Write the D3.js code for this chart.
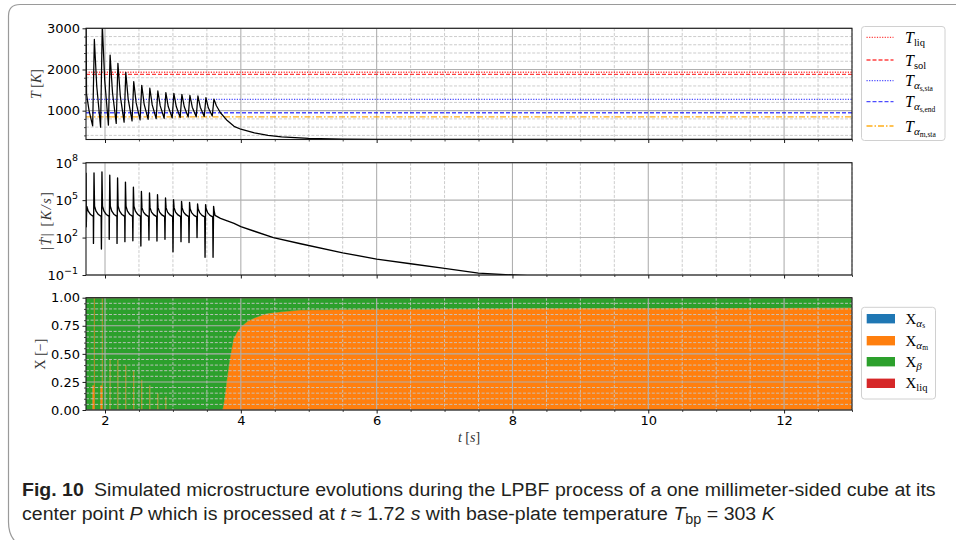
<!DOCTYPE html>
<html><head><meta charset="utf-8">
<script src="https://cdn.jsdelivr.net/npm/d3@7/dist/d3.min.js"></script>
<style>
html,body{margin:0;padding:0;background:#fff;}
svg{display:block;}
</style></head><body>
<svg id="chart" width="956" height="540"></svg>
<script>
// ================= DATA =================
const xTicks = [2, 4, 6, 8, 10, 12];
const tempTicks = [1000, 2000, 3000];
const rateTicks = [0.1, 1e2, 1e5, 1e8];
const rateTickExp = ["\u22121", "2", "5", "8"];
const fracTicks = [0, 0.25, 0.5, 0.75, 1];
const fracTickLabels = ["0.00", "0.25", "0.50", "0.75", "1.00"];

// reference temperatures (K)
const refTemps = [1933, 1880, 1273, 950, 850];

// temperature history at P
const tempTime = [1.72,1.728,1.765,1.818,1.843,1.878,1.935,1.960,1.995,2.050,2.075,2.110,2.165,2.190,2.225,2.281,2.306,2.341,2.398,2.423,2.458,2.516,2.541,2.576,2.635,2.660,2.695,2.753,2.778,2.813,2.871,2.896,2.931,2.989,3.014,3.049,3.107,3.132,3.167,3.225,3.250,3.285,3.343,3.368,3.403,3.461,3.486,3.521,3.579,3.604,3.64,3.70,3.80,3.90,4.00,4.20,4.40,4.60,4.80,5.00,5.50,6.00,7.00,13.0];
const tempK = [3600,1400,1000,630,2730,1600,600,3100,1750,650,2350,1440,690,2150,1360,720,1930,1280,750,1705,1195,775,1615,1160,790,1545,1140,805,1478,1115,815,1440,1100,825,1420,1100,835,1398,1095,845,1373,1085,850,1357,1085,860,1317,1070,870,1280,1120,950,760,620,550,460,400,365,343,328,312,306,304,303];

// |dT/dt| history (K/s)
const rateTime = [1.721,1.724,1.731,1.753,1.788,1.828,
1.830,1.838,1.846,1.868,1.903,1.943,
1.947,1.955,1.963,1.985,2.020,2.060,
2.062,2.070,2.078,2.100,2.135,2.175,
2.177,2.185,2.193,2.215,2.250,2.290,
2.293,2.301,2.309,2.331,2.366,2.406,
2.410,2.418,2.426,2.448,2.483,2.523,
2.528,2.536,2.544,2.566,2.601,2.641,
2.647,2.655,2.663,2.685,2.720,2.760,
2.765,2.773,2.781,2.803,2.838,2.878,
2.883,2.891,2.899,2.921,2.956,2.996,
3.001,3.009,3.017,3.039,3.074,3.114,
3.119,3.127,3.135,3.157,3.192,3.232,
3.237,3.245,3.253,3.275,3.310,3.350,
3.355,3.363,3.371,3.393,3.428,3.468,
3.473,3.481,3.489,3.511,3.546,3.586,
3.591,3.599,3.607,3.62,3.70,3.80,3.90,4.00,4.20,4.48,4.88,5.50,6.00,6.50,7.00,7.50,8.00,8.50,9.00];
const rateVal = [1.6e7,740,3.2e4,1.3e4,7000,5000,
34,1.5e7,3.2e4,1.3e4,7000,5000,
12,1.8e7,3.2e4,1.3e4,7000,5000,
72,1.0e7,3.2e4,1.3e4,7000,5000,
34,5.9e6,3.2e4,1.3e4,7000,5000,
47,2.8e6,3.2e4,1.3e4,7000,5000,
56,1.1e6,3.2e4,1.3e4,7000,5000,
21,5.0e5,2.5e4,1.1e4,6500,4800,
63,3.7e5,2.5e4,1.1e4,6500,4800,
52,2.7e5,2.5e4,1.1e4,6500,4800,
72,1.5e5,2.5e4,1.1e4,6500,4800,
7.2,1.1e5,2.5e4,1.1e4,6500,4800,
47,8.0e4,2.5e4,1.1e4,6500,4800,
40,6.6e4,2.0e4,1.0e4,6000,4500,
100,4.9e4,2.0e4,1.0e4,6000,4500,
2.6,4.3e4,2.0e4,1.0e4,6000,4500,
2.6,3.2e4,1.4e4,6000,3500,2200,1350,750,320,100,32,6,1.9,0.8,0.34,0.14,0.1,0.075,0.06];

// phase fractions
const fracTime = [1.72,1.812,1.812,1.836,1.836,1.851,1.851,1.929,1.929,1.953,1.953,1.968,1.968,
2.066,2.066,2.083,2.083,
2.181,2.181,2.198,2.198,
2.297,2.297,2.314,2.314,
2.414,2.414,2.431,2.431,
2.532,2.532,2.549,2.549,
2.651,2.651,2.668,2.668,
2.769,2.769,2.786,2.786,
2.887,2.887,2.904,2.904,
3.73,3.76,3.79,3.84,3.89,3.95,4.0,4.1,4.2,4.38,4.6,4.87,5.5,8,13];
const xAlphaS = [0,0,0,0,0,0,0,0,0,0,0,0,0, 0,0,0,0, 0,0,0,0, 0,0,0,0, 0,0,0,0, 0,0,0,0, 0,0,0,0, 0,0,0,0, 0,0,0,0, 0,0,0,0,0,0,0,0,0,0,0,0,0,0,0];
const xAlphaM = [0,0,0.22,0.22,1,1,0,0,0.22,0.22,1,1,0,
0,0.45,0.45,0,
0,0.45,0.45,0,
0,0.40,0.40,0,
0,0.35,0.35,0,
0,0.27,0.27,0,
0,0.22,0.22,0,
0,0.15,0.15,0,
0,0.12,0.12,0,
0,0.10,0.25,0.46,0.63,0.70,0.74,0.79,0.82,0.86,0.875,0.89,0.895,0.905,0.91];
const xBeta = [1,1,0.78,0.78,0,0,1,1,0.78,0.78,0,0,1,
1,0.55,0.55,1,
1,0.55,0.55,1,
1,0.60,0.60,1,
1,0.65,0.65,1,
1,0.73,0.73,1,
1,0.78,0.78,1,
1,0.85,0.85,1,
1,0.88,0.88,1,
1,0.90,0.75,0.54,0.37,0.30,0.26,0.21,0.18,0.14,0.125,0.11,0.105,0.095,0.09];
const xLiq = [0,0,0,0,0,0,0,0,0,0,0,0,0, 0,0,0,0, 0,0,0,0, 0,0,0,0, 0,0,0,0, 0,0,0,0, 0,0,0,0, 0,0,0,0, 0,0,0,0, 0,0,0,0,0,0,0,0,0,0,0,0,0,0,0];

// ================= DRAW =================
const svg = d3.select("#chart");
const X0 = 86, X1 = 852;
const x = d3.scaleLinear().domain([1.72, 13]).range([X0, X1]);
const P = {top: [28.3, 139.5], mid: [162.7, 275], bot: [297.7, 410]};
const yT = d3.scaleLinear().domain([300, 3000]).range([P.top[1], P.top[0]]);
const yR = d3.scaleLog().domain([0.1, 1e8]).range([P.mid[1], P.mid[0]]);
const yX = d3.scaleLinear().domain([0, 1]).range([P.bot[1], P.bot[0]]);

const xMinor = d3.range(2, 13.01, 0.5).filter(v => !xTicks.includes(v));
const tMinor = d3.range(400, 3000, 200).filter(v => !tempTicks.includes(v));
const fMinor = d3.range(1, 20).map(k => k * 0.05).filter(v => Math.abs(v * 4 - Math.round(v * 4)) > 1e-6);

const defs = svg.append("defs");
["top", "mid", "bot"].forEach(k => {
  defs.append("clipPath").attr("id", "clip-" + k).append("rect")
    .attr("x", X0).attr("y", P[k][0]).attr("width", X1 - X0).attr("height", P[k][1] - P[k][0]);
});

const MAJ = "#b0b0b0", MIN = "#c6c6c6";
function grid(y, yMaj, yMin, key) {
  const [y0, y1] = P[key];
  const g = svg.append("g");
  g.selectAll(null).data(xMinor).join("line")
    .attr("x1", d => x(d)).attr("x2", d => x(d)).attr("y1", y0).attr("y2", y1)
    .attr("stroke", MIN).attr("stroke-width", 0.9).attr("stroke-dasharray", "3,1.6");
  g.selectAll(null).data(yMin).join("line")
    .attr("x1", X0).attr("x2", X1).attr("y1", d => y(d)).attr("y2", d => y(d))
    .attr("stroke", MIN).attr("stroke-width", 0.9).attr("stroke-dasharray", "3,1.6");
  g.selectAll(null).data(xTicks).join("line")
    .attr("x1", d => x(d)).attr("x2", d => x(d)).attr("y1", y0).attr("y2", y1)
    .attr("stroke", MAJ).attr("stroke-width", 1.1);
  g.selectAll(null).data(yMaj).join("line")
    .attr("x1", X0).attr("x2", X1).attr("y1", d => y(d)).attr("y2", d => y(d))
    .attr("stroke", MAJ).attr("stroke-width", 1.1);
}

function axes(y, yMaj, yMin, key, fmt, showX) {
  const [y0, y1] = P[key];
  const gl = svg.append("g").attr("transform", `translate(${X0},0)`)
    .call(d3.axisLeft(y).tickValues(yMaj).tickSize(3.5).tickPadding(2.5).tickFormat(fmt || ""));
  gl.select(".domain").remove();
  gl.selectAll("text").attr("font-family", "DejaVu Sans").attr("font-size", 13).attr("fill", "#000");
  gl.selectAll("line").attr("stroke", "#000").attr("stroke-width", 0.9);
  if (yMin.length) {
    const gm = svg.append("g").attr("transform", `translate(${X0},0)`)
      .call(d3.axisLeft(y).tickValues(yMin).tickSize(2).tickFormat(""));
    gm.select(".domain").remove();
    gm.selectAll("line").attr("stroke", "#000").attr("stroke-width", 0.7);
  }
  const gb = svg.append("g").attr("transform", `translate(0,${y1})`)
    .call(d3.axisBottom(x).tickValues(xTicks).tickSize(3.5).tickPadding(2).tickFormat(showX ? d3.format("d") : ""));
  gb.select(".domain").remove();
  gb.selectAll("text").attr("font-family", "DejaVu Sans").attr("font-size", 13).attr("fill", "#000");
  gb.selectAll("line").attr("stroke", "#000").attr("stroke-width", 0.9);
  const gbm = svg.append("g").attr("transform", `translate(0,${y1})`)
    .call(d3.axisBottom(x).tickValues(xMinor).tickSize(2).tickFormat(""));
  gbm.select(".domain").remove();
  gbm.selectAll("line").attr("stroke", "#000").attr("stroke-width", 0.7);
  svg.append("rect").attr("x", X0).attr("y", y0).attr("width", X1 - X0).attr("height", y1 - y0)
    .attr("fill", "none").attr("stroke", "#1a1a1a").attr("stroke-width", 1.1);
}

// ---------- top panel ----------
grid(yT, tempTicks, tMinor, "top");
const refStyles = [
  {c: "rgba(255,0,0,0.75)", d: "1.2,1.4"},
  {c: "rgba(255,0,0,0.75)", d: "4,2"},
  {c: "rgba(0,0,255,0.7)", d: "1.2,1.4"},
  {c: "rgba(0,0,255,0.7)", d: "4,2"},
  {c: "rgba(255,165,0,0.9)", d: "6,2,1.5,2"}
];
svg.append("g").selectAll(null).data(refTemps).join("line")
  .attr("x1", X0).attr("x2", X1).attr("y1", d => yT(d)).attr("y2", d => yT(d))
  .attr("stroke", (d, i) => refStyles[i].c).attr("stroke-dasharray", (d, i) => refStyles[i].d)
  .attr("stroke-width", 1.3);
const tempPts = tempTime.map((t, i) => [t, tempK[i]]);
svg.append("path").attr("clip-path", "url(#clip-top)")
  .attr("d", d3.line().x(d => x(d[0])).y(d => yT(d[1]))(tempPts))
  .attr("fill", "none").attr("stroke", "#000").attr("stroke-width", 1.25).attr("stroke-linejoin", "round");
axes(yT, tempTicks, tMinor, "top", d3.format("d"), false);

// ---------- middle panel ----------
grid(yR, rateTicks, [], "mid");
const ratePts = rateTime.map((t, i) => [t, rateVal[i]]);
svg.append("path").attr("clip-path", "url(#clip-mid)")
  .attr("d", d3.line().x(d => x(d[0])).y(d => yR(d[1]))(ratePts))
  .attr("fill", "none").attr("stroke", "#000").attr("stroke-width", 1.35).attr("stroke-linejoin", "round");
axes(yR, rateTicks, [], "mid", null, false);
// log tick labels
const rl = svg.append("g");
rateTicks.forEach((v, i) => {
  const t = rl.append("text").attr("x", 78).attr("y", yR(v) + 5).attr("text-anchor", "end")
    .attr("font-family", "DejaVu Sans").attr("font-size", 13).attr("fill", "#000");
  t.append("tspan").text("10");
  t.append("tspan").attr("dy", -6.5).attr("font-size", 9.5).text(rateTickExp[i]);
});

// ---------- bottom panel ----------
const fracRows = fracTime.map((t, i) => ({t, as: xAlphaS[i], am: xAlphaM[i], b: xBeta[i], l: xLiq[i]}));
const keys = ["as", "am", "b", "l"];
const colors = {as: "#1f77b4", am: "#ff7f0e", b: "#2ca02c", l: "#d62728"};
const series = d3.stack().keys(keys)(fracRows);
const area = d3.area().x(d => x(d.data.t)).y0(d => yX(d[0])).y1(d => yX(d[1]));
svg.append("g").attr("clip-path", "url(#clip-bot)").selectAll(null).data(series).join("path")
  .attr("d", area).attr("fill", d => colors[d.key]).attr("stroke", d => colors[d.key]).attr("stroke-width", 0.4);
grid(yX, fracTicks, fMinor, "bot");
axes(yX, fracTicks, fMinor, "bot", (d, i) => fracTickLabels[fracTicks.indexOf(d)], true);

// ---------- axis labels ----------
const SERIF = "Liberation Serif, DejaVu Serif, serif";
function ylab(cx, cy, parts, size, len) {
  const t = svg.append("text").attr("transform", `translate(${cx},${cy}) rotate(-90)`)
    .attr("text-anchor", "middle").attr("dominant-baseline", "central")
    .attr("font-family", SERIF).attr("font-size", size).attr("fill", "#333");
  if (len) t.attr("textLength", len).attr("lengthAdjust", "spacing");
  parts.forEach(p => t.append("tspan").attr("font-style", p.i ? "italic" : "normal").text(p.s));
}
ylab(36, 84, [{s: "T", i: 1}, {s: " ["}, {s: "K", i: 1}, {s: "]"}], 14);
ylab(46, 221, [{s: "|"}, {s: "T\u0307", i: 1}, {s: "|  ["}, {s: "K/s", i: 1}, {s: "]"}], 14, 58);
ylab(40, 354, [{s: "X [\u2212]"}], 14);
const xl = svg.append("text").attr("x", 469).attr("y", 442).attr("text-anchor", "middle")
  .attr("font-family", SERIF).attr("font-size", 14).attr("fill", "#333");
xl.append("tspan").attr("font-style", "italic").text("t");
xl.append("tspan").text(" [");
xl.append("tspan").attr("font-style", "italic").text("s");
xl.append("tspan").text("]");

// ---------- legends ----------
const lg1 = svg.append("g");
lg1.append("rect").attr("x", 861.5).attr("y", 26.5).attr("width", 83.5).attr("height", 114)
  .attr("rx", 3).attr("fill", "rgba(255,255,255,0.8)").attr("stroke", "#d0d0d0").attr("stroke-width", 1);
const lg1Y = [37.3, 60, 80.7, 101.7, 126];
const lg1Sub = [["liq"], ["sol"], ["\u03b1", "s,sta"], ["\u03b1", "s,end"], ["\u03b1", "m,sta"]];
lg1Y.forEach((yy, i) => {
  lg1.append("line").attr("x1", 866.5).attr("x2", 893.5).attr("y1", yy).attr("y2", yy)
    .attr("stroke", refStyles[i].c).attr("stroke-dasharray", refStyles[i].d).attr("stroke-width", 1.3);
  const t = lg1.append("text").attr("x", 905).attr("y", yy + 5.5).attr("font-family", SERIF).attr("fill", "#000");
  t.append("tspan").attr("font-style", "italic").attr("font-size", 16).text("T");
  const s = lg1Sub[i];
  if (s.length === 1) {
    t.append("tspan").attr("font-size", 10.5).attr("dy", 3).text(s[0]);
  } else {
    t.append("tspan").attr("font-size", 11).attr("font-style", "italic").attr("dy", 3).text(s[0]);
    t.append("tspan").attr("font-size", 7.5).attr("dy", 2).text(s[1]);
  }
});

const lg2 = svg.append("g");
lg2.append("rect").attr("x", 861.5).attr("y", 307.3).attr("width", 74).attr("height", 91.7)
  .attr("rx", 3).attr("fill", "rgba(255,255,255,0.8)").attr("stroke", "#d0d0d0").attr("stroke-width", 1);
const lg2Y = [318.7, 340.7, 361.7, 383.3];
const lg2Sub = [["\u03b1", "s"], ["\u03b1", "m"], ["\u03b2"], ["liq"]];
lg2Y.forEach((yy, i) => {
  lg2.append("rect").attr("x", 866.7).attr("y", yy - 4.7).attr("width", 28.3).attr("height", 9.4)
    .attr("fill", colors[keys[i]]);
  const t = lg2.append("text").attr("x", 905.5).attr("y", yy + 4.8).attr("font-family", SERIF).attr("fill", "#000");
  t.append("tspan").attr("font-size", 15).text("X");
  const s = lg2Sub[i];
  if (i === 3) {
    t.append("tspan").attr("font-size", 10.5).attr("dy", 3).text(s[0]);
  } else {
    t.append("tspan").attr("font-size", 11).attr("font-style", "italic").attr("dy", 3).text(s[0]);
    if (s[1]) t.append("tspan").attr("font-size", 7.5).attr("dy", 1.8).text(s[1]);
  }
});

// ---------- frame ----------
svg.append("path").attr("d", "M956,4.5 L20,4.5 Q8.5,4.5 8.5,16 L8.5,522 Q8.5,540 22,546")
  .attr("fill", "none").attr("stroke", "#9a9a9a").attr("stroke-width", 1.2);

// ---------- caption ----------
const CAP = "Liberation Sans Narrow, Liberation Sans, Arial, sans-serif";
function capLine(y, parts, targetW) {
  const t = svg.append("text").attr("x", 0).attr("y", 0).attr("font-family", CAP)
    .attr("font-size", 19).attr("fill", "#231f20");
  parts.forEach(p => {
    const s = t.append("tspan").text(p.s);
    if (p.b) s.attr("font-weight", "bold");
    if (p.i) s.attr("font-style", "italic");
    if (p.dx) s.attr("dx", p.dx);
    if (p.dy) s.attr("dy", p.dy);
    if (p.fs) s.attr("font-size", p.fs);
  });
  const w = t.node().getComputedTextLength();
  t.attr("transform", `translate(22,${y}) scale(${targetW / w},1)`);
}
capLine(496, [{s: "Fig. 10", b: 1}, {s: "Simulated microstructure evolutions during the LPBF process of a one millimeter-sided cube at its", dx: 10}], 904);
capLine(520, [{s: "center point "}, {s: "P", i: 1}, {s: " which is processed at "}, {s: "t", i: 1}, {s: " \u2248 1.72 "}, {s: "s", i: 1},
  {s: " with base-plate temperature "}, {s: "T", i: 1}, {s: "bp", dy: 4, fs: 14}, {s: " = 303 ", dy: -4}, {s: "K", i: 1}], 753);
</script>
</body></html>
